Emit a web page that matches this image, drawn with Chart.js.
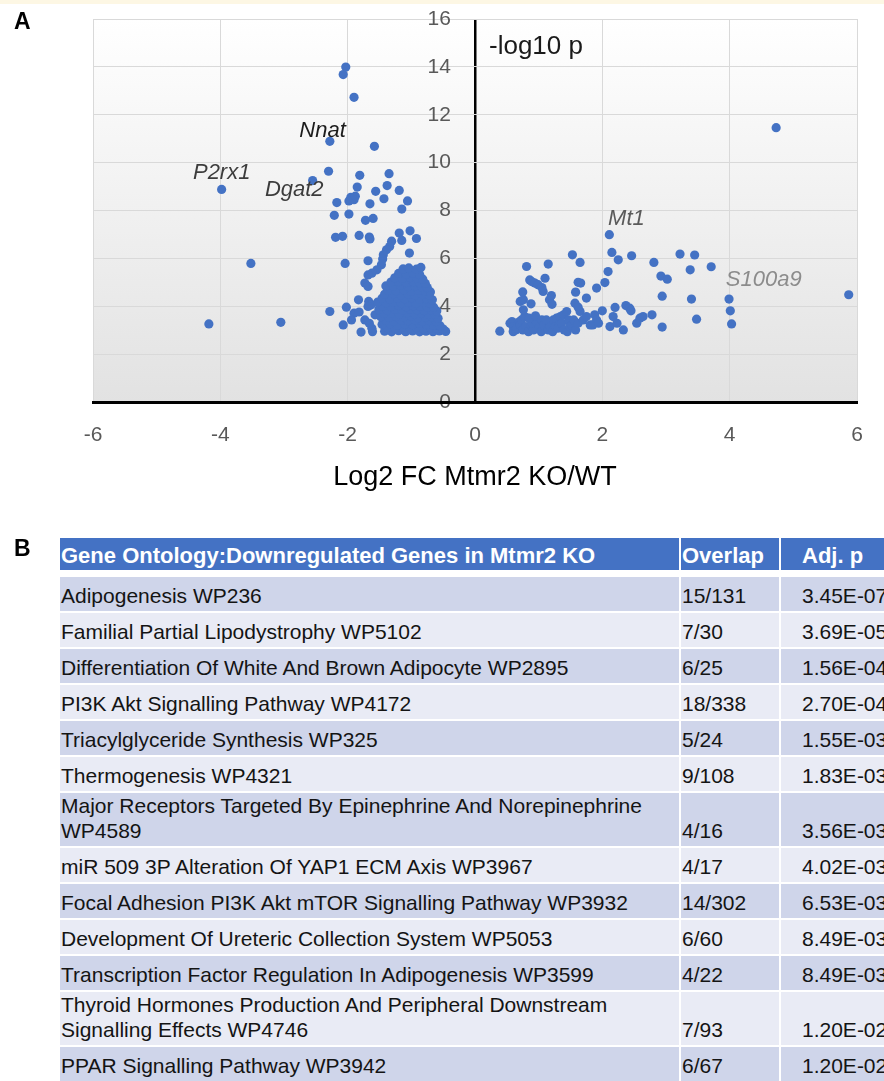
<!DOCTYPE html>
<html>
<head>
<meta charset="utf-8">
<script src="https://cdn.jsdelivr.net/npm/chart.js@4.4.1/dist/chart.umd.min.js"></script>
<style>
  body { margin: 0; background: #fff; width: 884px; height: 1081px; overflow: hidden; position: relative;
         font-family: 'Liberation Sans', Arial, sans-serif; }
  .strip { position: absolute; left: 0; top: 0; width: 884px; height: 4px; background: #fdf7e4; }
  .panel { position: absolute; left: 14px; font-weight: bold; font-size: 23px; line-height: 23px; color: #000; }
  #chartBox { position: absolute; left: 0; top: 0; width: 884px; height: 510px; }
  table { position: absolute; left: 60px; top: 538px; border-collapse: separate; border-spacing: 0;
          table-layout: fixed; width: 830px; font-size: 21px; color: #141414; }
  td, th { box-sizing: border-box; padding: 0 0 3px 1px; vertical-align: bottom; text-align: left;
           line-height: 25px; border-right: 2px solid #fff; border-bottom: 2px solid #fff; font-weight: normal; }
  th { background: #4472C4; color: #fff; font-size: 22px; font-weight: bold; height: 39px; border-bottom-width: 7px; padding-bottom: 2px; }
  td { height: 36px; }
  tr.dark td { background: #CFD5EA; }
  tr.light td { background: #E9EBF5; }
  .pcol { padding-left: 21px; }
</style>
</head>
<body>
<div class="strip"></div>
<div id="chartBox"><canvas id="volcano"></canvas></div>
<div class="panel" style="top:10px">A</div>
<div class="panel" style="top:537px">B</div>
<table id="goTable">
  <colgroup><col style="width:621px"><col style="width:100px"><col style="width:109px"></colgroup>
  <thead><tr><th>Gene Ontology:Downregulated Genes in Mtmr2 KO</th><th>Overlap</th><th class="pcol">Adj. p</th></tr></thead>
  <tbody></tbody>
</table>
<script>
// ---- Panel A: volcano plot data (log2 FC, -log10 p) ----
var downGenes = [
  [-2.03,13.99],[-2.07,13.68],[-1.90,12.73],[-2.28,10.89],[-1.58,10.68],[-3.98,8.88],
  [-2.30,9.64],[-2.55,9.25],[-1.81,9.47],[-1.35,9.54],[-1.85,8.98],[-1.38,9.04],[-1.56,8.80],
  [-1.19,8.84],[-1.43,8.49],[-1.06,8.40],[-1.95,8.55],[-1.90,8.45],[-1.98,8.40],[-1.88,8.60],
  [-2.17,8.33],[-1.65,8.28],[-1.15,8.06],[-2.21,7.80],[-1.98,7.85],[-1.72,7.59],[-1.60,7.67],
  [-2.19,6.88],[-2.08,6.92],[-1.82,6.96],[-1.66,6.89],[-1.65,6.81],[-1.19,7.06],[-1.02,7.15],
  [-0.92,6.83],[-1.31,6.72],[-1.15,6.75],[-3.52,5.79],[-2.04,5.79],[-1.68,5.90],[-1.03,6.22],
  [-1.34,6.50],[-1.39,6.36],[-1.44,6.15],[-1.45,5.97],[-1.47,5.73],[-1.54,5.52],[-1.62,5.38],
  [-1.68,5.31],[-1.73,4.97],[-1.68,4.83],
  [-4.18,3.26],[-3.05,3.33],[-2.28,3.78],[-2.02,3.96],[-2.07,3.22],[-1.83,4.27],[-1.90,3.71],
  [-1.82,3.76],[-1.94,3.43],[-1.79,2.92],[-1.73,3.43],[-1.66,3.29],[-1.61,2.94],[-1.62,3.08],
  [-1.67,4.20],[-1.63,4.06],[-1.57,3.64],[-1.68,3.99],
  [-1.42,2.96],[-1.31,2.93],[-1.20,2.98],[-1.09,2.94],[-0.98,2.97],[-0.87,2.93],[-0.77,2.96],
  [-0.66,2.94],[-0.56,2.97],[-0.46,2.95],
  [-1.37,3.10],[-1.25,3.07],[-1.13,3.12],[-1.02,3.08],[-0.92,3.11],[-0.81,3.06],[-0.70,3.10],
  [-0.60,3.08],[-0.50,3.05],
  [-1.46,3.24],[-1.33,3.27],[-1.22,3.22],[-1.10,3.26],[-0.98,3.23],[-0.87,3.28],[-0.76,3.24],
  [-0.65,3.21],[-0.55,3.19],
  [-1.40,3.41],[-1.28,3.38],[-1.16,3.42],[-1.05,3.39],[-0.94,3.43],[-0.83,3.37],[-0.72,3.40],
  [-0.61,3.36],
  [-1.48,3.56],[-1.35,3.53],[-1.24,3.57],[-1.12,3.54],[-1.00,3.58],[-0.89,3.52],[-0.78,3.55],
  [-0.67,3.53],[-0.58,3.50],
  [-1.43,3.70],[-1.31,3.72],[-1.19,3.68],[-1.07,3.73],[-0.95,3.69],[-0.84,3.71],[-0.73,3.67],
  [-0.63,3.66],
  [-1.51,3.86],[-1.38,3.84],[-1.26,3.88],[-1.14,3.83],[-1.02,3.87],[-0.91,3.85],[-0.80,3.82],
  [-0.69,3.84],[-0.60,3.80],
  [-1.45,4.01],[-1.32,3.99],[-1.20,4.03],[-1.08,3.98],[-0.97,4.02],[-0.86,4.00],[-0.75,3.97],
  [-0.65,3.96],
  [-1.53,4.17],[-1.40,4.15],[-1.28,4.18],[-1.16,4.14],[-1.04,4.16],[-0.93,4.13],[-0.81,4.17],
  [-0.70,4.12],
  [-1.46,4.33],[-1.34,4.30],[-1.22,4.34],[-1.10,4.31],[-0.99,4.35],[-0.87,4.29],[-0.76,4.32],
  [-0.67,4.27],
  [-1.42,4.50],[-1.29,4.52],[-1.17,4.48],[-1.05,4.51],[-0.94,4.47],[-0.83,4.50],[-0.72,4.46],
  [-1.36,4.67],[-1.24,4.65],[-1.12,4.69],[-1.00,4.64],[-0.89,4.68],[-0.78,4.63],[-0.70,4.60],
  [-1.40,4.85],[-1.28,4.83],[-1.17,4.87],[-1.05,4.82],[-0.94,4.86],[-0.84,4.81],[-0.75,4.78],
  [-1.32,5.01],[-1.20,5.03],[-1.08,4.99],[-0.97,5.02],[-0.87,4.98],[-0.78,4.95],
  [-1.26,5.19],[-1.14,5.16],[-1.02,5.20],[-0.91,5.17],[-0.82,5.13],
  [-1.20,5.37],[-1.08,5.35],[-0.97,5.38],[-0.87,5.33],
  [-1.13,5.56],[-1.04,5.60],[-0.92,5.55],[-0.85,5.62]
];

var upGenes = [
  [0.39,2.96],[0.55,3.29],[0.58,3.36],[0.60,3.15],[0.60,2.94],[0.64,3.01],[0.66,3.08],[0.70,3.36],
  [0.71,3.22],[0.73,3.43],[0.75,3.01],[0.78,3.57],[0.80,3.15],[0.84,2.94],[0.88,3.22],[0.92,3.01],
  [0.90,3.29],[0.96,3.36],[0.85,3.50],[0.95,3.60],[1.00,3.08],[1.04,2.94],[1.05,3.43],[1.08,3.22],
  [1.12,3.43],[1.15,3.01],[1.18,3.15],[1.22,2.94],[1.23,3.43],[1.26,3.15],[1.28,3.50],[1.30,3.08],
  [1.33,3.29],[1.34,3.57],[1.36,3.29],[1.39,3.64],[1.40,3.01],[1.44,3.78],[1.45,2.94],[1.47,3.43],
  [1.49,3.15],[1.52,3.22],[1.55,3.43],[1.58,3.01],[1.62,3.29],[1.65,3.78],[1.70,3.43],[1.75,3.57],
  [1.81,3.22],[1.85,3.22],[1.88,3.64],[1.91,3.43],[1.94,3.29],
  [0.71,4.20],[0.76,3.85],[0.76,4.27],[0.88,4.10],[0.75,4.60],[0.81,5.66],[0.86,5.10],[0.89,5.03],
  [0.94,4.97],[0.99,4.90],[1.07,4.62],[1.05,4.78],[1.10,5.17],[1.15,5.76],[1.17,4.27],[1.20,4.45],
  [1.21,4.08],[1.53,6.15],[1.57,4.13],[1.58,4.59],[1.62,5.00],[1.66,4.97],[1.62,3.96],[1.65,5.83],
  [1.75,4.34],[1.91,4.76],[2.00,3.81],[2.04,4.99],[2.09,5.45],[2.11,6.99],[2.12,3.15],[2.15,6.25],
  [2.17,3.57],[2.20,3.95],[2.23,3.29],[2.25,5.94],[2.33,3.01],[2.37,4.03],[2.43,3.92],[2.45,3.81],
  [2.46,6.11],[2.54,3.29],[2.59,3.50],[2.64,3.57],[2.78,3.64],[2.81,5.83],[2.92,5.26],[2.94,4.42],
  [2.94,3.13],[3.02,5.13],[3.22,6.18],[3.45,6.14],[3.38,5.52],[3.71,5.65],[3.40,4.30],[3.48,3.46],
  [3.99,4.30],[4.01,3.81],[4.03,3.26],[5.87,4.48],[4.73,11.46]
];

var geneNames = ['Nnat', 'P2rx1', 'Dgat2', 'Mt1', 'S100a9'];
var geneLabelAt = [[-2.76,11.34],[-4.43,9.58],[-3.30,8.87],[2.09,7.66],[3.94,5.10]];
var geneLabelColors = ['#1c1c1c', '#3c3c3c', '#3c3c3c', '#5a5a5a', '#8c8c8c'];
var yTitle = '-log10 p';
var yTitleAt = [0.22, 14.85];
var xTitle = 'Log2 FC Mtmr2 KO/WT';

// ---- Panel B: enrichment table ----
var termNames = [
  'Adipogenesis WP236',
  'Familial Partial Lipodystrophy WP5102',
  'Differentiation Of White And Brown Adipocyte WP2895',
  'PI3K Akt Signalling Pathway WP4172',
  'Triacylglyceride Synthesis WP325',
  'Thermogenesis WP4321',
  'Major Receptors Targeted By Epinephrine And Norepinephrine WP4589',
  'miR 509 3P Alteration Of YAP1 ECM Axis WP3967',
  'Focal Adhesion PI3K Akt mTOR Signalling Pathway WP3932',
  'Development Of Ureteric Collection System WP5053',
  'Transcription Factor Regulation In Adipogenesis WP3599',
  'Thyroid Hormones Production And Peripheral Downstream Signalling Effects WP4746',
  'PPAR Signalling Pathway WP3942'
];
var overlaps = ['15/131','7/30','6/25','18/338','5/24','9/108','4/16','4/17','14/302','6/60','4/22','7/93','6/67'];
var adjP = ['3.45E-07','3.69E-05','1.56E-04','2.70E-04','1.55E-03','1.83E-03','3.56E-03','4.02E-03','6.53E-03','8.49E-03','8.49E-03','1.20E-02','1.20E-02'];

var tbody = document.querySelector('#goTable tbody');
termNames.forEach(function(name, i) {
  var tr = document.createElement('tr');
  tr.className = i % 2 === 0 ? 'dark' : 'light';
  tr.innerHTML = '<td>' + name + '</td><td>' + overlaps[i] + '</td><td class="pcol">' + adjP[i] + '</td>';
  tbody.appendChild(tr);
});

// ---- chart ----
Chart.defaults.font.family = "'Liberation Sans', Arial, sans-serif";

var plotBackground = {
  id: 'plotBackground',
  beforeDraw: function(chart) {
    var a = chart.chartArea, ctx = chart.ctx;
    var g = ctx.createLinearGradient(0, a.top, 0, a.bottom);
    g.addColorStop(0, '#ffffff');
    g.addColorStop(1, '#e2e2e2');
    ctx.save();
    ctx.fillStyle = g;
    ctx.fillRect(a.left, a.top, a.right - a.left, a.bottom - a.top);
    ctx.restore();
  }
};

var textLabels = {
  id: 'textLabels',
  afterDatasetsDraw: function(chart) {
    var sx = chart.scales.x, sy = chart.scales.y, ctx = chart.ctx;
    ctx.save();
    ctx.textAlign = 'left';
    ctx.textBaseline = 'middle';
    ctx.font = "26px 'Liberation Sans', Arial, sans-serif";
    ctx.fillStyle = '#1a1a1a';
    ctx.fillText(yTitle, sx.getPixelForValue(yTitleAt[0]), sy.getPixelForValue(yTitleAt[1]));
    ctx.font = "italic 22px 'Liberation Sans', Arial, sans-serif";
    geneNames.forEach(function(name, i) {
      ctx.fillStyle = geneLabelColors[i];
      ctx.fillText(name, sx.getPixelForValue(geneLabelAt[i][0]), sy.getPixelForValue(geneLabelAt[i][1]));
    });
    ctx.restore();
  }
};

new Chart(document.getElementById('volcano').getContext('2d'), {
  type: 'scatter',
  data: {
    datasets: [
      { label: 'down', data: downGenes.map(function(p) { return { x: p[0], y: p[1] }; }),
        backgroundColor: '#4472C4', borderWidth: 0, pointRadius: 4.6 },
      { label: 'up', data: upGenes.map(function(p) { return { x: p[0], y: p[1] }; }),
        backgroundColor: '#4472C4', borderWidth: 0, pointRadius: 4.6 }
    ]
  },
  options: {
    responsive: true, maintainAspectRatio: false, animation: false, events: [],
    layout: { padding: { left: 93, right: 27, top: 19, bottom: 0 } },
    plugins: { legend: { display: false }, tooltip: { enabled: false } },
    scales: {
      x: {
        type: 'linear', min: -6, max: 6, position: 'bottom',
        ticks: { stepSize: 2, padding: 21, color: '#595959', font: { size: 21 } },
        grid: {
          drawTicks: false,
          color: function(c) { return c.tick && c.tick.value === 0 ? '#000' : '#d9d9d9'; },
          lineWidth: function(c) { return c.tick && c.tick.value === 0 ? 2.5 : 1; }
        },
        border: { color: '#000', width: 3, z: 1 },
        title: { display: true, text: xTitle, color: '#000', font: { size: 27 }, padding: { top: 0, bottom: 16 } },
        afterFit: function(s) { s.height = 108; }
      },
      y: {
        type: 'linear', min: 0, max: 16, position: { x: -0.38 },
        ticks: { stepSize: 2, color: '#595959', font: { size: 21 } },
        grid: {
          drawTicks: false,
          color: function(c) { return c.tick && c.tick.value === 0 ? 'rgba(0,0,0,0)' : '#d9d9d9'; }
        },
        border: { display: false }
      }
    }
  },
  plugins: [plotBackground, textLabels]
});
</script>
</body>
</html>
